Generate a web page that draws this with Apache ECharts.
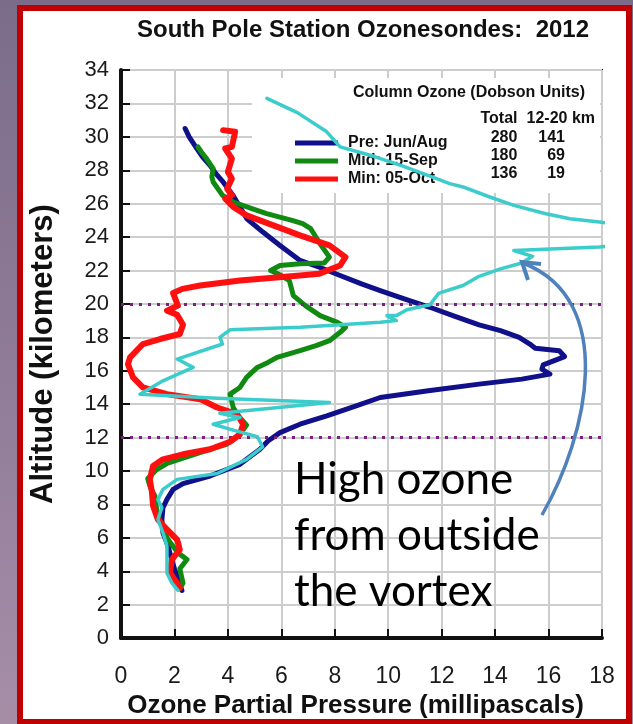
<!DOCTYPE html>
<html>
<head>
<meta charset="utf-8">
<title>South Pole Station Ozonesondes: 2012</title>
<script src="https://cdn.jsdelivr.net/npm/echarts@6/dist/echarts.min.js"></script>
<style>
  html, body { margin: 0; padding: 0; }
  body {
    width: 633px; height: 724px; overflow: hidden; position: relative;
    background: linear-gradient(to bottom, #7b6d8a 0%, #8f7b98 50%, #a68ea7 100%);
  }
  #frame {
    position: absolute; left: 17px; top: 5px; width: 603px; height: 708px;
    border: 6px solid #c00000; background: #ffffff;
  }
  #chart { position: absolute; left: 0; top: 0; width: 633px; height: 724px; }
</style>
</head>
<body>
<div id="frame"></div>
<div id="chart"></div>
<script>
// Ozone partial pressure (mPa) vs altitude (km), listed from the top of each sounding down.
const preProfile = [
  [2.40, 30.5], [2.55, 30.0], [2.84, 29.3], [3.05, 28.8], [3.33, 28.3], [3.55, 27.8],
  [3.82, 27.3], [4.19, 26.5], [4.45, 25.8], [4.71, 25.1], [5.31, 24.3], [5.95, 23.5],
  [6.70, 22.6], [7.50, 22.15], [8.20, 21.7], [9.00, 21.2], [9.70, 20.8], [10.6, 20.3],
  [11.56, 19.8], [12.5, 19.25], [13.4, 18.75], [14.2, 18.4], [14.9, 18.0], [15.3, 17.6],
  [15.5, 17.35], [16.4, 17.2], [16.6, 16.85], [15.8, 16.35], [15.75, 16.1], [16.05, 15.8],
  [15.0, 15.5], [13.4, 15.2], [11.5, 14.8], [9.70, 14.4], [8.80, 13.9], [7.70, 13.3],
  [6.70, 12.8], [5.95, 12.3], [5.50, 11.8], [5.20, 11.3], [4.45, 10.4], [3.33, 9.7],
  [2.32, 9.25], [1.95, 8.9], [1.72, 8.3], [1.57, 7.8], [1.53, 7.1], [1.57, 6.3],
  [1.76, 5.5], [1.90, 4.7], [2.00, 4.15], [2.13, 3.56], [2.28, 2.85]
];
const midProfile = [
  [2.88, 29.4], [3.05, 29.0], [3.20, 28.7], [3.45, 28.1], [3.40, 27.6], [3.45, 27.3],
  [3.80, 26.5], [4.20, 26.1], [4.90, 25.7], [5.45, 25.4], [6.40, 25.0], [6.80, 24.8],
  [7.10, 24.5], [7.45, 23.6], [7.80, 22.8], [7.60, 22.45], [6.70, 22.4], [5.95, 22.3],
  [5.60, 22.0], [6.00, 21.7], [6.30, 21.4], [6.45, 20.5], [6.90, 19.9], [7.45, 19.3],
  [8.10, 18.9], [8.40, 18.6], [8.20, 18.3], [7.80, 17.8], [7.30, 17.5], [6.70, 17.2],
  [5.84, 16.8], [5.50, 16.5], [5.10, 16.2], [4.70, 15.6], [4.45, 15.0], [4.08, 14.6],
  [4.20, 13.8], [4.45, 13.2], [4.70, 12.75], [4.45, 12.2], [3.95, 11.6], [3.33, 11.3],
  [2.58, 10.9], [1.72, 10.45], [1.35, 10.1], [1.00, 9.55], [1.08, 9.1], [1.27, 8.5],
  [1.35, 7.5], [1.53, 6.7], [1.76, 5.9], [2.13, 5.1], [2.47, 4.7], [2.20, 4.15],
  [2.32, 3.3], [2.20, 2.95]
];
const minProfile = [
  [3.82, 30.4], [4.27, 30.3], [4.15, 29.4], [3.90, 29.3], [4.15, 28.7], [4.00, 27.9],
  [4.15, 27.5], [3.97, 26.9], [4.15, 26.5], [3.90, 26.3], [4.20, 25.8], [4.70, 25.3],
  [5.70, 24.7], [6.70, 24.1], [7.80, 23.5], [8.40, 22.8], [8.20, 22.3], [7.40, 21.8],
  [6.70, 21.7], [4.45, 21.4], [2.96, 21.1], [2.30, 20.9], [1.95, 20.65], [2.13, 19.9],
  [1.72, 19.6], [2.10, 19.35], [2.32, 18.75], [2.20, 18.2], [1.46, 17.9], [0.82, 17.6],
  [0.34, 16.8], [0.26, 16.4], [0.45, 15.6], [0.82, 15.0], [1.72, 14.6], [2.96, 14.3],
  [3.60, 13.8], [4.34, 13.4], [4.57, 12.8], [4.45, 12.2], [4.08, 11.75], [3.33, 11.3],
  [2.32, 11.0], [1.57, 10.7], [1.20, 10.3], [1.08, 9.5], [1.16, 8.7], [1.20, 7.9],
  [1.38, 7.1], [1.72, 6.5], [2.10, 5.9], [2.20, 5.3], [1.90, 4.7], [1.83, 3.9],
  [2.10, 3.3], [2.20, 3.0]
];
// Later sounding carrying high ozone from outside the vortex
const intrusionProfile = [
  [5.46, 32.3], [6.60, 31.45], [7.70, 30.3], [8.20, 29.4], [9.43, 28.85], [10.55, 28.25],
  [11.56, 27.65], [12.3, 27.2], [12.8, 27.0], [13.8, 26.4], [14.7, 25.9], [15.9, 25.4],
  [16.8, 25.1], [17.9, 24.9], [19.0, 24.7], [19.2, 23.6], [17.9, 23.4], [14.7, 23.2],
  [15.4, 22.85], [15.0, 22.45], [14.2, 22.1], [13.4, 21.65], [12.8, 21.1], [11.9, 20.65],
  [11.75, 20.35], [11.56, 19.95], [10.7, 19.65], [10.3, 19.3], [9.95, 19.3], [10.3, 19.0],
  [9.70, 18.9], [6.70, 18.6], [4.08, 18.45], [3.70, 18.0], [3.80, 17.6], [2.10, 16.7],
  [2.70, 16.2], [1.57, 15.4], [0.71, 14.6], [3.60, 14.35], [7.80, 14.1], [3.70, 13.45],
  [4.45, 13.2], [3.45, 12.8], [4.20, 12.45], [5.10, 12.05], [5.30, 11.45], [4.70, 10.7],
  [3.60, 9.85], [2.10, 9.5], [1.57, 8.9], [1.38, 8.3], [1.53, 7.8], [1.38, 7.1],
  [1.57, 6.3], [1.72, 5.5], [1.72, 4.75], [1.72, 3.9], [1.90, 3.3], [2.13, 2.85]
];

const seriesNames = ['Pre: Jun/Aug', 'Mid: 15-Sep', 'Min: 05-Oct'];
const totalColumn = ['280', '180', '136'];
const layerColumn = ['141', '69', '19'];
const boundaryAltitudes = [12, 20];
const xTicks = { min: 0, max: 18, step: 2 };
const yTicks = { min: 0, max: 34, step: 2 };

const chart = echarts.init(document.getElementById('chart'), null, { renderer: 'canvas' });
const FONT = 'Arial, "Liberation Sans", Helvetica, sans-serif';

function profileSeries(name, data, color, width, z) {
  return {
    name: name,
    type: 'line',
    data: data,
    symbol: 'none',
    smooth: false,
    clip: true,
    z: z,
    lineStyle: { color: color, width: width, join: 'round', cap: 'round' },
    itemStyle: { color: color },
    emphasis: { disabled: true }
  };
}

const series = [
  profileSeries(seriesNames[0], preProfile, '#10108a', 5, 3),
  profileSeries(seriesNames[1], midProfile, '#108a10', 5, 4),
  profileSeries(seriesNames[2], minProfile, '#ff1010', 6, 5),
  profileSeries('', intrusionProfile, '#3ccccc', 3.5, 6)
];
series[0].markLine = {
  silent: true,
  symbol: 'none',
  label: { show: false },
  lineStyle: { color: '#7d1f80', type: [3, 6], width: 3 },
  data: boundaryAltitudes.map(v => ({ yAxis: v }))
};

// Column table next to the legend
const tableRowY = [138, 156, 174];
const tableText = [];
totalColumn.forEach((t, i) => {
  tableText.push({ type: 'text', z: 3, style: { text: t, x: 504, y: tableRowY[i], textAlign: 'center', textVerticalAlign: 'middle', font: 'bold 16px ' + FONT, fill: '#111' } });
  tableText.push({ type: 'text', z: 3, style: { text: layerColumn[i], x: 565, y: tableRowY[i], textAlign: 'right', textVerticalAlign: 'middle', font: 'bold 16px ' + FONT, fill: '#111' } });
});

const option = {
  backgroundColor: 'transparent',
  animation: false,
  title: {
    text: 'South Pole Station Ozonesondes:  2012',
    left: 358, top: 13, textAlign: 'center',
    textStyle: { fontFamily: FONT, fontWeight: 'bold', fontSize: 24, color: '#111' }
  },
  legend: {
    data: seriesNames,
    orient: 'vertical',
    left: 290, top: 129,
    icon: 'rect', itemWidth: 43, itemHeight: 5, itemGap: 0,
    selectedMode: false,
    textStyle: { fontFamily: FONT, fontWeight: 'bold', fontSize: 16, color: '#111', lineHeight: 18, padding: [0, 0, 0, 5] }
  },
  grid: {
    left: 121, top: 70, right: 31, bottom: 81,
    show: true, borderColor: '#111', borderWidth: 2, backgroundColor: 'transparent'
  },
  xAxis: {
    type: 'value', min: xTicks.min, max: xTicks.max, interval: xTicks.step,
    name: 'Ozone Partial Pressure (millipascals)',
    nameLocation: 'middle', nameGap: 52,
    nameTextStyle: { fontFamily: FONT, fontWeight: 'bold', fontSize: 26, color: '#111', padding: [0, 12, 0, 0] },
    axisLine: { show: true, onZero: false, lineStyle: { color: '#111', width: 4 } },
    axisTick: { show: true, inside: true, length: 9, lineStyle: { color: '#111', width: 2 } },
    axisLabel: { fontFamily: FONT, fontSize: 23, color: '#1a1a1a', margin: 27 },
    splitLine: { show: true, lineStyle: { color: '#cdcdcd', width: 2 } }
  },
  yAxis: {
    type: 'value', min: yTicks.min, max: yTicks.max, interval: yTicks.step,
    name: 'Altitude (kilometers)',
    nameLocation: 'middle', nameGap: 62, nameRotate: 90,
    nameTextStyle: { fontFamily: FONT, fontWeight: 'bold', fontSize: 31, color: '#111' },
    axisLine: { show: true, onZero: false, lineStyle: { color: '#111', width: 4 } },
    axisTick: { show: true, inside: true, length: 9, lineStyle: { color: '#111', width: 2 } },
    axisLabel: { fontFamily: FONT, fontSize: 22, color: '#1a1a1a', margin: 12 },
    splitLine: { show: true, lineStyle: { color: '#cdcdcd', width: 2 } }
  },
  graphic: [
    // white panel behind the legend and column table
    { type: 'rect', z: 1, shape: { x: 252, y: 78, width: 348, height: 115 }, style: { fill: '#ffffff' } },
    { type: 'text', z: 3, style: { text: 'Column Ozone (Dobson Units)', x: 469, y: 93, textAlign: 'center', textVerticalAlign: 'middle', font: 'bold 16px ' + FONT, fill: '#111' } },
    { type: 'text', z: 3, style: { text: 'Total', x: 499, y: 119, textAlign: 'center', textVerticalAlign: 'middle', font: 'bold 16px ' + FONT, fill: '#111' } },
    { type: 'text', z: 3, style: { text: '12-20 km', x: 595, y: 119, textAlign: 'right', textVerticalAlign: 'middle', font: 'bold 16px ' + FONT, fill: '#111' } },
    ...tableText,
    // annotation
    { type: 'text', z: 10, style: { text: 'High ozone', x: 294, y: 480, textVerticalAlign: 'middle', font: '44px Lato, "Open Sans", sans-serif', fill: '#000' } },
    { type: 'text', z: 10, style: { text: 'from outside', x: 294, y: 536, textVerticalAlign: 'middle', font: '44px Lato, "Open Sans", sans-serif', fill: '#000' } },
    { type: 'text', z: 10, style: { text: 'the vortex', x: 294, y: 592, textVerticalAlign: 'middle', font: '44px Lato, "Open Sans", sans-serif', fill: '#000' } },
    { type: 'bezierCurve', z: 10,
      shape: { x1: 542, y1: 515, cpx1: 588, cpy1: 435, cpx2: 618, cpy2: 300, x2: 523, y2: 263 },
      style: { stroke: '#4f81bd', lineWidth: 3.5, fill: null } },
    { type: 'polyline', z: 10,
      shape: { points: [[541, 264], [522, 262], [528, 280]] },
      style: { stroke: '#4f81bd', lineWidth: 4, fill: null, lineJoin: 'miter' } }
  ],
  series: series
};

chart.setOption(option);
</script>
</body>
</html>
